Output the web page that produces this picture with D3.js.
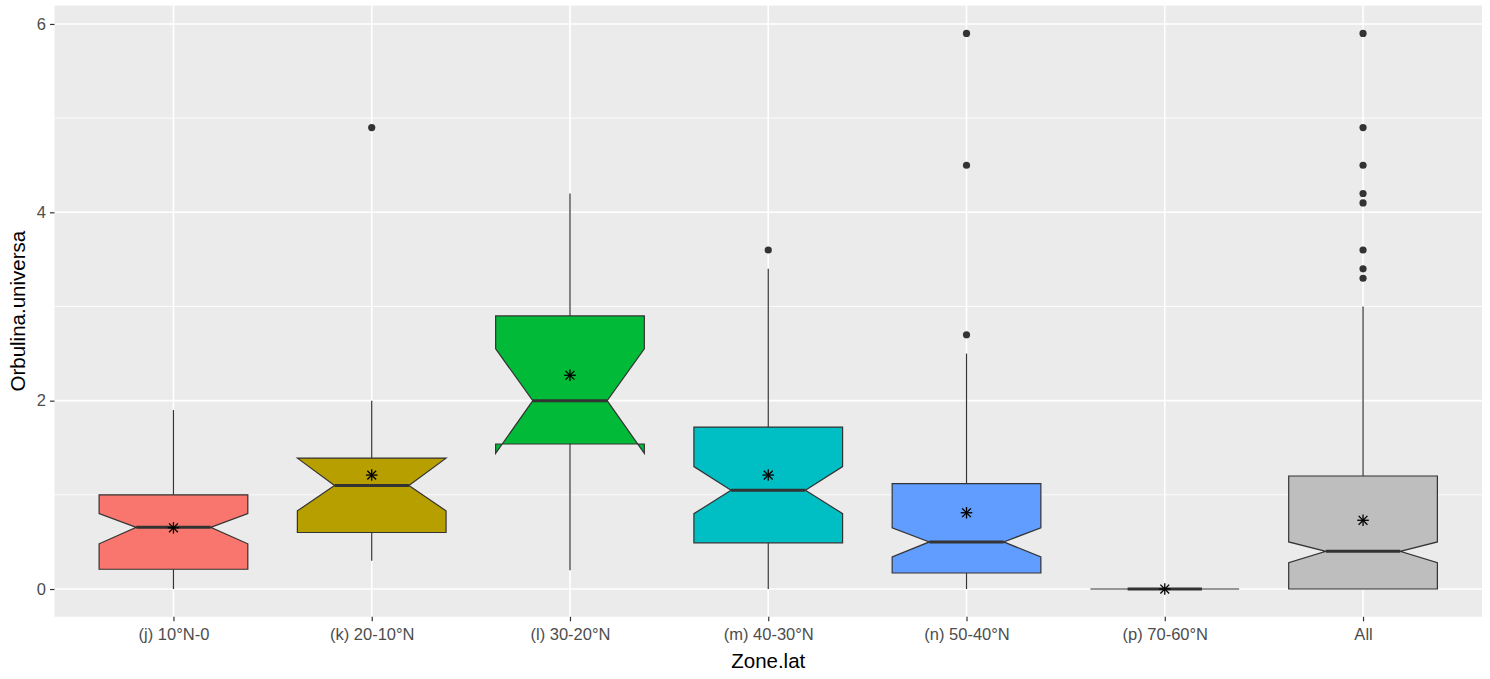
<!DOCTYPE html>
<html>
<head>
<meta charset="utf-8">
<script src="https://cdn.jsdelivr.net/npm/d3@7"></script>
<style>
  html, body { margin: 0; padding: 0; background: #ffffff; }
  svg { display: block; }
</style>
</head>
<body>
<svg id="chart" width="1490" height="679"></svg>
<script>
// ---- data ----
const categories = ["(j) 10°N-0", "(k) 20-10°N", "(l) 30-20°N", "(m) 40-30°N", "(n) 50-40°N", "(p) 70-60°N", "All"];
const whiskerLow  = [0.00, 0.30, 0.20, 0.00, 0.00, 0.00, 0.00];
const lowerHinge  = [0.21, 0.60, 1.54, 0.49, 0.17, 0.00, 0.00];
const medians     = [0.655, 1.10, 2.00, 1.05, 0.50, 0.00, 0.40];
const upperHinge  = [1.00, 1.39, 2.90, 1.72, 1.12, 0.00, 1.20];
const whiskerHigh = [1.90, 2.00, 4.20, 3.40, 2.50, 0.00, 3.00];
const notchLow    = [0.48, 0.83, 1.44, 0.80, 0.34, 0.00, 0.28];
const notchHigh   = [0.80, 1.39, 2.55, 1.30, 0.65, 0.00, 0.50];
const means       = [0.65, 1.21, 2.27, 1.21, 0.81, 0.00, 0.73];
const outliers    = [[], [4.9], [], [3.6], [5.9, 4.5, 2.7], [], [5.9, 4.9, 4.5, 4.2, 4.1, 3.6, 3.4, 3.3]];
const fills       = ["#F8766D", "#B79F00", "#00BA38", "#00BFC4", "#619CFF", "#F564E3", "#BEBEBE"];
const yTicks      = [0, 2, 4, 6];
const yMinor      = [1, 3, 5];
const xTitle = "Zone.lat";
const yTitle = "Orbulina.universa";

// ---- layout ----
const panel = { left: 54.5, right: 1482, top: 5.6, bottom: 616.8 };
const font = "'Liberation Sans', Arial, sans-serif";
const svg = d3.select("#chart");

const x = d3.scalePoint().domain(categories).range([panel.left, panel.right]).padding(0.6);
const y = d3.scaleLinear().domain([-0.295, 6.195]).range([panel.bottom, panel.top]);
const boxW = x.step() * 0.75;
const inset = boxW * 0.25;

// panel background
svg.append("rect")
  .attr("x", panel.left).attr("y", panel.top)
  .attr("width", panel.right - panel.left).attr("height", panel.bottom - panel.top)
  .attr("fill", "#EBEBEB");

const grid = svg.append("g");
grid.selectAll("line.minor").data(yMinor).join("line")
  .attr("x1", panel.left).attr("x2", panel.right)
  .attr("y1", d => y(d)).attr("y2", d => y(d))
  .attr("stroke", "#ffffff").attr("stroke-width", 0.8);
grid.selectAll("line.major").data(yTicks).join("line")
  .attr("x1", panel.left).attr("x2", panel.right)
  .attr("y1", d => y(d)).attr("y2", d => y(d))
  .attr("stroke", "#ffffff").attr("stroke-width", 1.6);
grid.selectAll("line.vmajor").data(categories).join("line")
  .attr("x1", d => x(d)).attr("x2", d => x(d))
  .attr("y1", panel.top).attr("y2", panel.bottom)
  .attr("stroke", "#ffffff").attr("stroke-width", 1.6);

const stroke = "#333333";
const boxes = svg.append("g");
categories.forEach((c, i) => {
  const cx = x(c);
  const g = boxes.append("g");
  // whiskers
  g.append("line").attr("x1", cx).attr("x2", cx)
    .attr("y1", y(upperHinge[i])).attr("y2", y(whiskerHigh[i]))
    .attr("stroke", stroke).attr("stroke-width", 1.2);
  g.append("line").attr("x1", cx).attr("x2", cx)
    .attr("y1", y(lowerHinge[i])).attr("y2", y(whiskerLow[i]))
    .attr("stroke", stroke).attr("stroke-width", 1.2);
  // notched box
  const xmin = cx - boxW / 2, xmax = cx + boxW / 2;
  const pts = [
    [xmin, y(upperHinge[i])], [xmin, y(notchHigh[i])], [xmin + inset, y(medians[i])],
    [xmin, y(notchLow[i])], [xmin, y(lowerHinge[i])], [xmax, y(lowerHinge[i])],
    [xmax, y(notchLow[i])], [xmax - inset, y(medians[i])], [xmax, y(notchHigh[i])],
    [xmax, y(upperHinge[i])]
  ];
  g.append("path").attr("d", d3.line()(pts) + "Z")
    .attr("fill", fills[i]).attr("stroke", stroke).attr("stroke-width", 1.2)
    .attr("stroke-linejoin", "miter");
  // median
  g.append("line").attr("x1", xmin + inset).attr("x2", xmax - inset)
    .attr("y1", y(medians[i])).attr("y2", y(medians[i]))
    .attr("stroke", stroke).attr("stroke-width", 3);
  // outliers
  g.selectAll("circle").data(outliers[i]).join("circle")
    .attr("cx", cx).attr("cy", d => y(d)).attr("r", 3.6).attr("fill", stroke);
  // mean star (pch 8)
  const my = y(means[i]);
  const a = 5.8, b = 4.4;
  const star = g.append("g").attr("stroke", "#000").attr("stroke-width", 1.3);
  star.append("line").attr("x1", cx - a).attr("x2", cx + a).attr("y1", my).attr("y2", my);
  star.append("line").attr("x1", cx).attr("x2", cx).attr("y1", my - a).attr("y2", my + a);
  star.append("line").attr("x1", cx - b).attr("x2", cx + b).attr("y1", my - b).attr("y2", my + b);
  star.append("line").attr("x1", cx - b).attr("x2", cx + b).attr("y1", my + b).attr("y2", my - b);
});

// axes
const yAxis = svg.append("g").attr("transform", `translate(${panel.left},0)`)
  .call(d3.axisLeft(y).tickValues(yTicks).tickFormat(d3.format("d")).tickSize(4.5).tickPadding(4));
const xAxis = svg.append("g").attr("transform", `translate(0,${panel.bottom})`)
  .call(d3.axisBottom(x).tickSize(4.5).tickPadding(7));
[yAxis, xAxis].forEach(ax => {
  ax.select(".domain").remove();
  ax.selectAll(".tick line").attr("stroke", stroke).attr("stroke-width", 1.2);
  ax.selectAll(".tick text").attr("fill", "#4D4D4D").style("font-family", font).style("font-size", "16.5px");
});

// titles
svg.append("text").text(xTitle)
  .attr("x", (panel.left + panel.right) / 2).attr("y", 668)
  .attr("text-anchor", "middle").attr("fill", "#000")
  .style("font-family", font).style("font-size", "20.5px");
svg.append("text").text(yTitle)
  .attr("transform", `translate(25,${(panel.top + panel.bottom) / 2}) rotate(-90)`)
  .attr("text-anchor", "middle").attr("fill", "#000")
  .style("font-family", font).style("font-size", "20.5px");
</script>
</body>
</html>
